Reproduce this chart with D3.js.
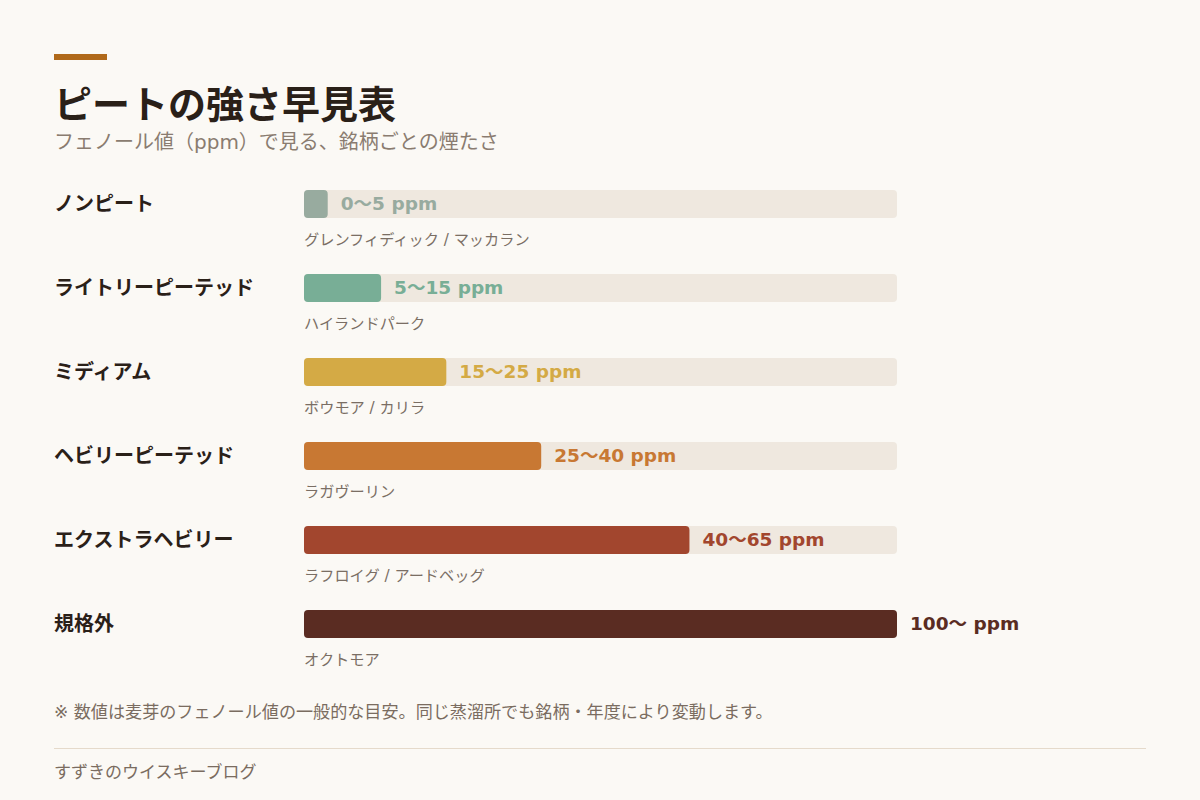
<!DOCTYPE html>
<html lang="ja">
<head>
  <meta charset="UTF-8" />
  <title>ピートの強さ早見表</title>
  <script src="https://d3js.org/d3.v7.min.js"></script>
  <style>
    body {
      margin: 0;
      padding: 0;
      background: #fbf9f5;
      font-family: "DejaVu Sans", "Noto Sans CJK JP", sans-serif;
    }
    svg { display: block; }
  </style>
</head>
<body>
  <div id="chart"></div>

  <script>
    // Peat categories and what goes on each row
    const categories = ["ノンピート", "ライトリーピーテッド", "ミディアム", "ヘビリーピーテッド", "エクストラヘビリー", "規格外"];
    const rangeLabels = ["0〜5 ppm", "5〜15 ppm", "15〜25 ppm", "25〜40 ppm", "40〜65 ppm", "100〜 ppm"];
    const brands = ["グレンフィディック / マッカラン", "ハイランドパーク", "ボウモア / カリラ", "ラガヴーリン", "ラフロイグ / アードベッグ", "オクトモア"];
    // bar fill level, ppm on a 0-100 scale
    const fillValues = [4, 13, 24, 40, 65, 100];
    const colors = ["#98ab9f", "#78ae96", "#d4aa45", "#c87833", "#a2462e", "#5a2c22"];

    const width = 1200, height = 800;

    const svg = d3.select("#chart")
      .append("svg")
      .attr("width", width)
      .attr("height", height);

    svg.append("rect")
      .attr("width", width)
      .attr("height", height)
      .attr("fill", "#fbf9f5");

    // Header
    svg.append("rect")
      .attr("x", 54).attr("y", 54)
      .attr("width", 53).attr("height", 6)
      .attr("fill", "#b0691a");

    svg.append("text")
      .attr("x", 54).attr("y", 118)
      .attr("font-size", 38)
      .attr("font-weight", 700)
      .attr("fill", "#2a2018")
      .text("ピートの強さ早見表");

    svg.append("text")
      .attr("x", 54).attr("y", 149)
      .attr("font-size", 20)
      .attr("fill", "#8a7c70")
      .text("フェノール値（ppm）で見る、銘柄ごとの煙たさ");

    // Scales
    const x = d3.scaleLinear().domain([0, 100]).range([304, 897]);
    const y = d3.scaleBand().domain(categories).range([190, 694]);
    const barH = 28;

    const rows = svg.selectAll("g.row")
      .data(categories)
      .enter()
      .append("g")
      .attr("class", "row")
      .attr("transform", d => `translate(0,${y(d)})`);

    rows.append("text")
      .attr("x", 54)
      .attr("y", barH / 2)
      .attr("dy", "0.35em")
      .attr("font-size", 20)
      .attr("font-weight", 700)
      .attr("fill", "#2a2018")
      .text(d => d);

    // track
    rows.append("rect")
      .attr("x", x(0))
      .attr("y", 0)
      .attr("width", x(100) - x(0))
      .attr("height", barH)
      .attr("rx", 4)
      .attr("fill", "#efe8df");

    // filled bar
    rows.append("rect")
      .attr("x", x(0))
      .attr("y", 0)
      .attr("width", (d, i) => x(fillValues[i]) - x(0))
      .attr("height", barH)
      .attr("rx", 4)
      .attr("fill", (d, i) => colors[i]);

    rows.append("text")
      .attr("x", (d, i) => x(fillValues[i]) + 13)
      .attr("y", barH / 2)
      .attr("dy", "0.34em")
      .attr("font-size", 18.5)
      .attr("font-weight", 700)
      .attr("fill", (d, i) => colors[i])
      .text((d, i) => rangeLabels[i]);

    rows.append("text")
      .attr("x", x(0))
      .attr("y", 55)
      .attr("font-size", 15.2)
      .attr("fill", "#7a6e64")
      .text((d, i) => brands[i]);

    // Footnote and footer
    svg.append("text")
      .attr("x", 54).attr("y", 718)
      .attr("font-size", 17.1)
      .attr("fill", "#7a6c60")
      .text("※ 数値は麦芽のフェノール値の一般的な目安。同じ蒸溜所でも銘柄・年度により変動します。");

    svg.append("line")
      .attr("x1", 54).attr("x2", 1146)
      .attr("y1", 748.5).attr("y2", 748.5)
      .attr("stroke", "#e5dacb")
      .attr("stroke-width", 1);

    svg.append("text")
      .attr("x", 54).attr("y", 778)
      .attr("font-size", 17)
      .attr("fill", "#7a6c60")
      .text("すずきのウイスキーブログ");
  </script>
</body>
</html>
